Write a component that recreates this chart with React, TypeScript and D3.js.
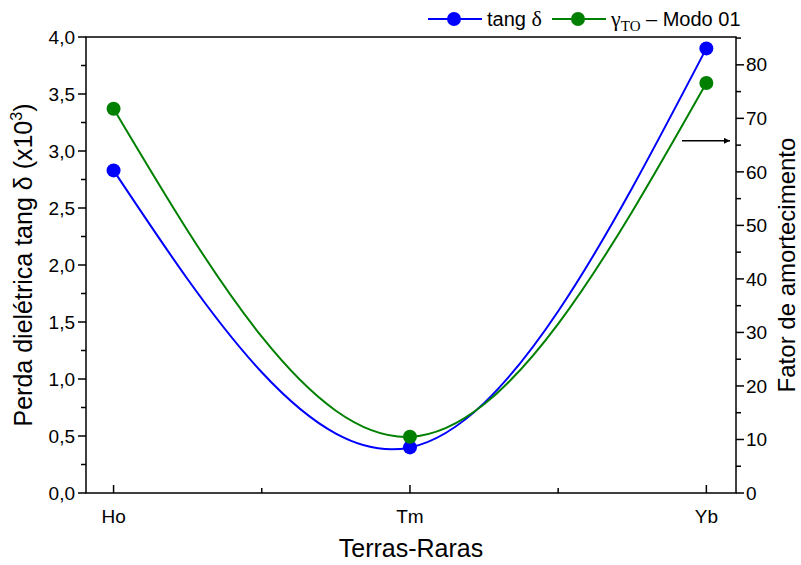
import React, { useEffect, useRef } from "react";
import * as d3 from "d3";

const categories = ["Ho", "Tm", "Yb"];
const tangDelta = [2.83, 0.4, 3.9];
const gammaTO = [71.8, 10.5, 76.6];
const leftTicks = [0, 0.5, 1, 1.5, 2, 2.5, 3, 3.5, 4];
const leftMinor = [0.25, 0.75, 1.25, 1.75, 2.25, 2.75, 3.25, 3.75];
const rightTicks = [0, 10, 20, 30, 40, 50, 60, 70, 80];
const rightMinor = [5, 15, 25, 35, 45, 55, 65, 75, 85];
const bottomMinor = [0.5, 1.5];

const width = 801;
const height = 565;
const margin = { top: 37, right: 65, bottom: 72, left: 86 };
const SANS = "'Liberation Sans', Arial, sans-serif";
const SERIF = "'Liberation Serif', 'Times New Roman', serif";

const App = () => {
  const svgRef = useRef<SVGSVGElement>(null);

  useEffect(() => {
    const svg = d3.select(svgRef.current);
    svg.selectAll("*").remove();

    const x0 = margin.left;
    const x1 = width - margin.right;
    const y0 = height - margin.bottom;
    const y1 = margin.top;

    const x = d3.scaleLinear().domain([-0.093, 2.1]).range([x0, x1]);
    const yL = d3.scaleLinear().domain([0, 4]).range([y0, y1]);
    const yR = d3.scaleLinear().domain([0, 85.2]).range([y0, y1]);

    const comma = (v: number) => d3.format(".1f")(v).replace(".", ",");

    // frame
    svg
      .append("rect")
      .attr("x", x0)
      .attr("y", y1)
      .attr("width", x1 - x0)
      .attr("height", y0 - y1)
      .attr("fill", "none")
      .attr("stroke", "#000")
      .attr("stroke-width", 1.5);

    // left axis
    const left = svg.append("g").attr("transform", `translate(${x0},0)`);
    left
      .selectAll("line.maj")
      .data(leftTicks)
      .join("line")
      .attr("x1", -8)
      .attr("x2", 0)
      .attr("y1", (d) => yL(d))
      .attr("y2", (d) => yL(d))
      .attr("stroke", "#000")
      .attr("stroke-width", 1.5);
    left
      .selectAll("line.min")
      .data(leftMinor)
      .join("line")
      .attr("x1", -5)
      .attr("x2", 0)
      .attr("y1", (d) => yL(d))
      .attr("y2", (d) => yL(d))
      .attr("stroke", "#000")
      .attr("stroke-width", 1.5);
    left
      .selectAll("text")
      .data(leftTicks)
      .join("text")
      .attr("x", -11)
      .attr("y", (d) => yL(d))
      .attr("dy", "0.35em")
      .attr("text-anchor", "end")
      .style("font-family", SANS)
      .style("font-size", "19px")
      .text((d) => comma(d));

    // right axis
    const right = svg.append("g").attr("transform", `translate(${x1},0)`);
    right
      .selectAll("line.maj")
      .data(rightTicks)
      .join("line")
      .attr("x1", 0)
      .attr("x2", 8)
      .attr("y1", (d) => yR(d))
      .attr("y2", (d) => yR(d))
      .attr("stroke", "#000")
      .attr("stroke-width", 1.5);
    right
      .selectAll("line.min")
      .data(rightMinor)
      .join("line")
      .attr("x1", 0)
      .attr("x2", 5)
      .attr("y1", (d) => yR(d))
      .attr("y2", (d) => yR(d))
      .attr("stroke", "#000")
      .attr("stroke-width", 1.5);
    right
      .selectAll("text")
      .data(rightTicks)
      .join("text")
      .attr("x", 10)
      .attr("y", (d) => yR(d))
      .attr("dy", "0.35em")
      .attr("text-anchor", "start")
      .style("font-family", SANS)
      .style("font-size", "19px")
      .text((d) => d);

    // bottom axis (ticks inward)
    const bottom = svg.append("g").attr("transform", `translate(0,${y0})`);
    bottom
      .selectAll("line.maj")
      .data(categories.map((_, i) => i))
      .join("line")
      .attr("x1", (d) => x(d))
      .attr("x2", (d) => x(d))
      .attr("y1", 0)
      .attr("y2", -8)
      .attr("stroke", "#000")
      .attr("stroke-width", 1.5);
    bottom
      .selectAll("line.min")
      .data(bottomMinor)
      .join("line")
      .attr("x1", (d) => x(d))
      .attr("x2", (d) => x(d))
      .attr("y1", 0)
      .attr("y2", -5)
      .attr("stroke", "#000")
      .attr("stroke-width", 1.5);
    bottom
      .selectAll("text")
      .data(categories)
      .join("text")
      .attr("x", (_, i) => x(i))
      .attr("y", 30)
      .attr("text-anchor", "middle")
      .style("font-family", SANS)
      .style("font-size", "19px")
      .text((d) => d);

    // axis titles
    svg
      .append("text")
      .attr("x", (x0 + x1) / 2)
      .attr("y", 557)
      .attr("text-anchor", "middle")
      .style("font-family", SANS)
      .style("font-size", "25px")
      .text("Terras-Raras");

    const lt = svg
      .append("text")
      .attr("transform", `translate(32,${(y0 + y1) / 2}) rotate(-90)`)
      .attr("text-anchor", "middle")
      .style("font-family", SANS)
      .style("font-size", "25px");
    lt.append("tspan").text("Perda dielétrica tang δ (x10");
    lt.append("tspan").attr("dy", -10).style("font-size", "16px").text("3");
    lt.append("tspan").attr("dy", 10).text(")");

    svg
      .append("text")
      .attr("transform", `translate(795,${(y0 + y1) / 2}) rotate(-90)`)
      .attr("text-anchor", "middle")
      .style("font-family", SANS)
      .style("font-size", "24px")
      .text("Fator de amortecimento");

    // curves
    const series = [
      { values: tangDelta, scale: yL, color: "#0000ff" },
      { values: gammaTO, scale: yR, color: "#008000" },
    ];
    series.forEach((s) => {
      const line = d3
        .line<number>()
        .x((_, i) => x(i))
        .y((d) => s.scale(d))
        .curve(d3.curveNatural);
      svg
        .append("path")
        .datum(s.values)
        .attr("d", line)
        .attr("fill", "none")
        .attr("stroke", s.color)
        .attr("stroke-width", 2);
    });
    series.forEach((s) => {
      svg
        .append("g")
        .selectAll("circle")
        .data(s.values)
        .join("circle")
        .attr("cx", (_, i) => x(i))
        .attr("cy", (d) => s.scale(d))
        .attr("r", 7)
        .attr("fill", s.color);
    });

    // arrow toward right axis
    const defs = svg.append("defs");
    defs
      .append("marker")
      .attr("id", "arrowhead")
      .attr("viewBox", "0 0 10 10")
      .attr("refX", 10)
      .attr("refY", 5)
      .attr("markerWidth", 9)
      .attr("markerHeight", 6)
      .attr("markerUnits", "userSpaceOnUse")
      .attr("orient", "auto")
      .append("path")
      .attr("d", "M0,0 L10,5 L0,10 Z")
      .attr("fill", "#000");
    svg
      .append("line")
      .attr("x1", x1 - 54)
      .attr("x2", x1 - 6)
      .attr("y1", yR(65.8))
      .attr("y2", yR(65.8))
      .attr("stroke", "#000")
      .attr("stroke-width", 1.5)
      .attr("marker-end", "url(#arrowhead)");

    // legend
    const leg = svg.append("g").attr("transform", "translate(0,19)");
    const items = [
      { x: 428, color: "#0000ff" },
      { x: 552, color: "#008000" },
    ];
    items.forEach((it) => {
      leg
        .append("line")
        .attr("x1", it.x)
        .attr("x2", it.x + 54)
        .attr("y1", 0)
        .attr("y2", 0)
        .attr("stroke", it.color)
        .attr("stroke-width", 2);
      leg
        .append("circle")
        .attr("cx", it.x + 26)
        .attr("cy", 0)
        .attr("r", 7)
        .attr("fill", it.color);
    });
    const t1 = leg
      .append("text")
      .attr("x", 487)
      .attr("y", 7)
      .style("font-family", SANS)
      .style("font-size", "20px");
    t1.append("tspan").text("tang ");
    t1.append("tspan").style("font-family", SERIF).style("font-size", "22px").text("δ");

    const t2 = leg
      .append("text")
      .attr("x", 611)
      .attr("y", 7)
      .style("font-family", SANS)
      .style("font-size", "20px");
    t2.append("tspan").style("font-family", SERIF).style("font-size", "22px").text("γ");
    t2.append("tspan")
      .style("font-family", SERIF)
      .style("font-size", "15px")
      .attr("dy", 5)
      .text("TO");
    t2.append("tspan").attr("dy", -5).text(" – Modo 01");
  }, []);

  return (
    <svg
      ref={svgRef}
      width={width}
      height={height}
      style={{ position: "absolute", left: 0, top: 0, background: "#fff" }}
    />
  );
};

export default App;
